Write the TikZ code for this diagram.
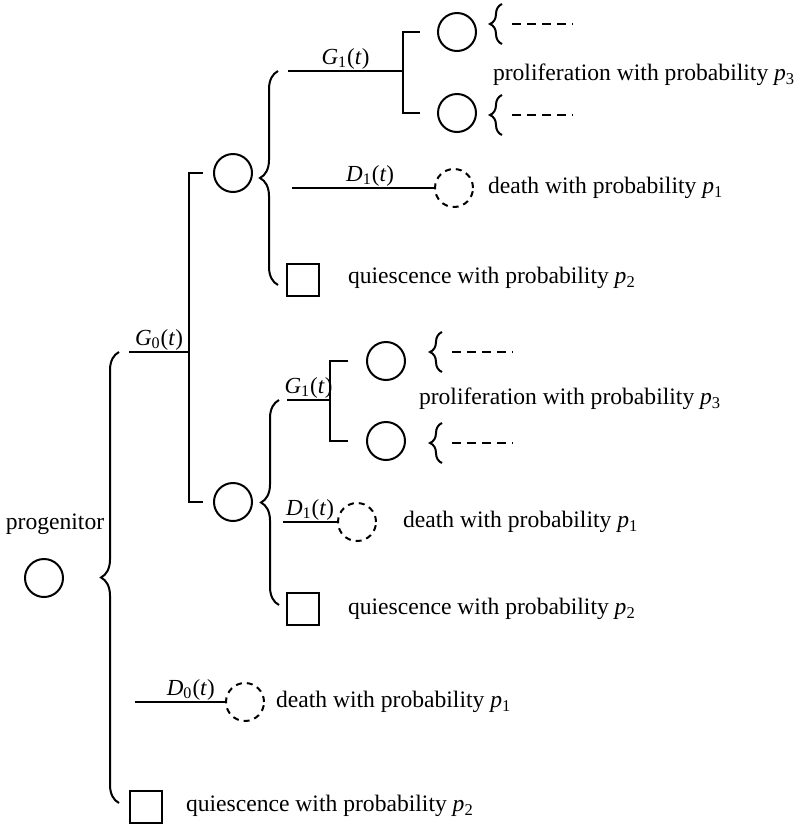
\documentclass[tikz,border=0pt]{standalone}
\usepackage{fontspec}
\setmainfont{Liberation Serif}
\usetikzlibrary{positioning, decorations.pathreplacing}

\newcommand{\rate}[2]{\textit{#1}\textsubscript{#2}(\textit{t})}
\newcommand{\prob}[1]{\textit{p}\textsubscript{#1}}

\begin{document}
\begin{tikzpicture}[x=0.5pt, y=-0.5pt, line width=1pt,
    font=\fontsize{11.8}{14}\selectfont,
    cell/.style={draw, circle, minimum size=19pt, inner sep=0pt},
    dead/.style={cell, dash pattern=on 3pt off 2.5pt},
    rest/.style={draw, minimum size=16pt, inner sep=0pt},
    txt/.style={anchor=west, inner sep=0pt},
    rate/.style={above, inner sep=0.5pt, font=\fontsize{11.5}{14}\selectfont},
    bigbrace/.style={decorate, decoration={brace, amplitude=9pt}},
    smallbrace/.style={decorate, decoration={brace, amplitude=6pt}},
    more/.style={dash pattern=on 4.5pt off 3pt}]
        \useasboundingbox (0,0) rectangle (800,831);

        % Progenitor
        \node[cell] (prog) at (44,578) {};
        \node[inner sep=0pt] (progl) at (55,524) {progenitor};
        \draw[bigbrace] (119,803) -- (119,352);

        % G0: two daughters
        \coordinate (g0s) at (129,352);
        \coordinate (j0) at (189,352);
        \draw (g0s) -- node[rate] {\rate{G}{0}} (j0);
        \node[cell] (dup) at (233,173) {};
        \node[cell] (dlo) at (233,502) {};
        \draw ([xshift=-5pt]dup.west) -| (j0) |- ([xshift=-5pt]dlo.west);

        % Upper daughter
        \draw[bigbrace] (278,285) -- (278,71);
        \coordinate (g1s) at (288,71);
        \coordinate (j1) at (403,71);
        \draw (g1s) -- node[rate] {\rate{G}{1}} (j1);
        \node[cell] (pa) at (457,32) {};
        \node[cell] (pb) at (457,113) {};
        \draw ([xshift=-8.5pt]pa.west) -| (j1) |- ([xshift=-8.5pt]pb.west);
        \node[txt] (prol1) at (492,75) {proliferation with probability \prob{3}};

        \coordinate (d1s) at (292,188);
        \node[dead] (dc1) at (454,188) {};
        \draw (d1s) -- node[rate, pos=0.55] {\rate{D}{1}} (dc1);
        \node[txt] (death1) at (487,188) {death with probability \prob{1}};

        \node[rest] (q1) at (303,280) {};
        \node[txt] (quie1) at (347,278) {quiescence with probability \prob{2}};

        % Lower daughter
        \draw[bigbrace] (279,605) -- (279,400);
        \coordinate (h1s) at (287,400);
        \coordinate (k1) at (330,400);
        \draw (h1s) -- node[rate] {\rate{G}{1}} (k1);
        \node[cell] (pc) at (386,361) {};
        \node[cell] (pd) at (386,441) {};
        \draw ([xshift=-9pt]pc.west) -| (k1) |- ([xshift=-9pt]pd.west);
        \node[txt] (prol2) at (418,399) {proliferation with probability \prob{3}};

        \coordinate (h2s) at (283,522);
        \node[dead] (dc2) at (357,522) {};
        \draw (h2s) -- node[rate] {\rate{D}{1}} (dc2);
        \node[txt] (death2) at (402,522) {death with probability \prob{1}};

        \node[rest] (q2) at (303,609) {};
        \node[txt] (quie2) at (347,609) {quiescence with probability \prob{2}};

        % Next generations
        \foreach \x/\y [count=\i] in {512/24, 512/115, 452/352, 452/443} {
            \draw[smallbrace] (\x-10,\y+20) -- (\x-10,\y-20);
            \coordinate (m\i) at (\x,\y);
            \draw[more] (m\i) -- ++(61,0);
        }

        % Progenitor death and quiescence
        \coordinate (d0s) at (135,702);
        \node[dead] (dc0) at (245,702) {};
        \draw (d0s) -- node[rate, pos=0.62] {\rate{D}{0}} (dc0);
        \node[txt] (death0) at (275,702) {death with probability \prob{1}};

        \node[rest] (q0) at (146,807) {};
        \node[txt] (quie0) at (185,806) {quiescence with probability \prob{2}};
\end{tikzpicture}
\end{document}
